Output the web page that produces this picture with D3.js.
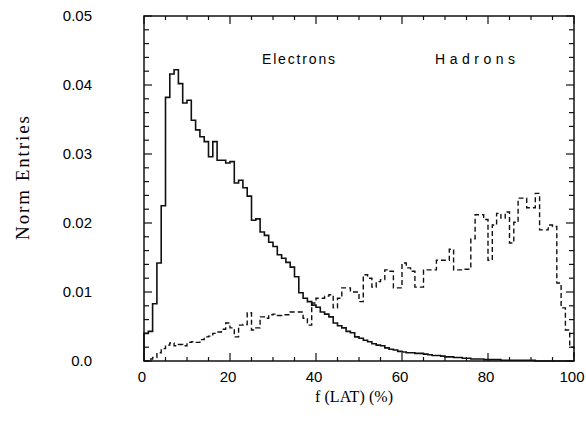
<!DOCTYPE html>
<html>
<head>
<meta charset="utf-8">
<script src="https://cdn.jsdelivr.net/npm/d3@7"></script>
<style>
  body { margin: 0; background: #fff; }
  svg { display: block; }
</style>
</head>
<body>
<div id="graph"></div>
<script>
// bin edges: bin i covers [i, i+1] in f(LAT) %
var electrons = [
  0.0040, 0.0043, 0.0083, 0.0142, 0.0225, 0.0382, 0.0416, 0.0422, 0.0402, 0.0374,
  0.0378, 0.0349, 0.0335, 0.0325, 0.0318, 0.0296, 0.0318, 0.0291, 0.0291, 0.0287,
  0.0289, 0.0258, 0.0262, 0.0251, 0.0239, 0.0204, 0.0206, 0.0187, 0.0182, 0.0172,
  0.0166, 0.0154, 0.0149, 0.0143, 0.0136, 0.0122, 0.0099, 0.0091, 0.0086, 0.0081,
  0.0078, 0.0071, 0.0068, 0.0064, 0.0055, 0.0051, 0.0048, 0.0043, 0.0041, 0.0035,
  0.0033, 0.0030, 0.0028, 0.0025, 0.0023, 0.0022, 0.0019, 0.0017, 0.0016, 0.0014,
  0.0013, 0.0012, 0.0012, 0.0011, 0.0011, 0.0010, 0.0009, 0.0008, 0.0008, 0.0007,
  0.0006, 0.0006, 0.0005, 0.0005, 0.0004, 0.0004, 0.0003, 0.0003, 0.0003, 0.0002,
  0.0002, 0.0002, 0.0002, 0.0001, 0.0001, 0.0001, 0.0001, 0.0001, 0.0001, 0.0001,
  0.0001, 0.0000, 0.0000, 0.0000, 0.0000, 0.0000, 0.0000, 0.0000, 0.0000, 0.0000
];
var hadrons = [
  0.0000, 0.0003, 0.0005, 0.0012, 0.0018, 0.0023, 0.0026, 0.0022, 0.0024, 0.0022,
  0.0027, 0.0028, 0.0027, 0.0031, 0.0035, 0.0036, 0.0040, 0.0042, 0.0046, 0.0055,
  0.0048, 0.0035, 0.0052, 0.0053, 0.0070, 0.0045, 0.0048, 0.0064, 0.0062, 0.0067,
  0.0068, 0.0066, 0.0067, 0.0067, 0.0071, 0.0071, 0.0071, 0.0062, 0.0052, 0.0084,
  0.0091, 0.0091, 0.0094, 0.0096, 0.0077, 0.0091, 0.0106, 0.0106, 0.0100, 0.0100,
  0.0086, 0.0125, 0.0120, 0.0107, 0.0115, 0.0118, 0.0132, 0.0130, 0.0106, 0.0106,
  0.0142, 0.0135, 0.0130, 0.0107, 0.0107, 0.0132, 0.0132, 0.0132, 0.0146, 0.0146,
  0.0146, 0.0162, 0.0132, 0.0132, 0.0133, 0.0133, 0.0177, 0.0212, 0.0212, 0.0205,
  0.0146, 0.0197, 0.0214, 0.0207, 0.0216, 0.0171, 0.0201, 0.0236, 0.0236, 0.0222,
  0.0222, 0.0243, 0.0190, 0.0190, 0.0197, 0.0195, 0.0113, 0.0077, 0.0045, 0.0020
];
var xTickValues = [0, 20, 40, 60, 80, 100];
var xTickLabels = ["0", "20", "40", "60", "80", "100"];
var yTickValues = [0, 0.01, 0.02, 0.03, 0.04, 0.05];
var yTickLabels = ["0.0", "0.01", "0.02", "0.03", "0.04", "0.05"];

var W = 586, H = 423;
var margin = {left: 144, right: 12, top: 16, bottom: 62};
var w = W - margin.left - margin.right, h = H - margin.top - margin.bottom;

var svg = d3.select("#graph").append("svg")
    .attr("width", W).attr("height", H)
  .append("g")
    .attr("transform", "translate(" + margin.left + "," + margin.top + ")");

var x = d3.scaleLinear().domain([0, 100]).range([0, w]);
var y = d3.scaleLinear().domain([0, 0.05]).range([h, 0]);

// step outline of a histogram
function steps(vals) {
  var pts = [[0, 0]];
  vals.forEach(function(v, i) { pts.push([i, v]); });
  pts.push([vals.length, vals[vals.length - 1]]);
  pts.push([vals.length, 0]);
  return pts;
}
var line = d3.line()
    .x(function(d) { return x(d[0]); })
    .y(function(d) { return y(d[1]); })
    .curve(d3.curveStepAfter);

svg.append("path").datum(steps(hadrons))
    .attr("d", line).attr("fill", "none")
    .attr("stroke", "#111").attr("stroke-width", 1.4)
    .attr("stroke-dasharray", "5,3");

svg.append("path").datum(steps(electrons))
    .attr("d", line).attr("fill", "none")
    .attr("stroke", "#111").attr("stroke-width", 1.6);

// frame with inward ticks on all four sides
svg.append("rect").attr("width", w).attr("height", h)
    .attr("fill", "none").attr("stroke", "#111").attr("stroke-width", 1.5);

var xMinor = d3.range(0, 101, 5);
var yMinor = d3.range(0, 0.0501, 0.002);
function xLen(v) { return v % 20 === 0 ? 8 : 4; }
function yLen(v) { return Math.abs(v / 0.01 - Math.round(v / 0.01)) < 1e-6 ? 8 : 5; }

var ticks = svg.append("g").attr("stroke", "#111").attr("stroke-width", 1.2);
xMinor.forEach(function(v) {
  ticks.append("line").attr("x1", x(v)).attr("x2", x(v)).attr("y1", h).attr("y2", h - xLen(v));
  ticks.append("line").attr("x1", x(v)).attr("x2", x(v)).attr("y1", 0).attr("y2", xLen(v));
});
yMinor.forEach(function(v) {
  ticks.append("line").attr("y1", y(v)).attr("y2", y(v)).attr("x1", 0).attr("x2", yLen(v));
  ticks.append("line").attr("y1", y(v)).attr("y2", y(v)).attr("x1", w).attr("x2", w - yLen(v));
});

// tick labels
svg.selectAll(".xl").data(xTickValues).enter().append("text")
    .attr("x", function(d) { return x(d) - 2; }).attr("y", h + 21)
    .attr("text-anchor", "middle")
    .style("font", "15px 'Liberation Sans', Arial, sans-serif")
    .text(function(d, i) { return xTickLabels[i]; });

svg.selectAll(".yl").data(yTickValues).enter().append("text")
    .attr("x", -52).attr("y", function(d) { return y(d) + 5; })
    .attr("text-anchor", "end")
    .style("font", "15px 'Liberation Sans', Arial, sans-serif")
    .text(function(d, i) { return yTickLabels[i]; });

// axis titles
svg.append("text").attr("x", 354 - margin.left).attr("y", h + 41)
    .attr("text-anchor", "middle")
    .attr("textLength", 78).attr("lengthAdjust", "spacing")
    .style("font", "16px 'Liberation Serif', 'DejaVu Serif', serif")
    .text("f (LAT) (%)");

svg.append("text")
    .attr("transform", "translate(" + (29 - margin.left) + "," + (178 - margin.top) + ") rotate(-90)")
    .attr("text-anchor", "middle")
    .attr("textLength", 124).attr("lengthAdjust", "spacing")
    .style("font", "19px 'Liberation Serif', 'DejaVu Serif', serif")
    .text("Norm Entries");

// series labels
svg.append("text").attr("x", 262 - margin.left).attr("y", 64 - margin.top)
    .attr("textLength", 73).attr("lengthAdjust", "spacing")
    .style("font", "14px 'Liberation Sans', Arial, sans-serif")
    .text("Electrons");
svg.append("text").attr("x", 435 - margin.left).attr("y", 64 - margin.top)
    .attr("textLength", 80).attr("lengthAdjust", "spacing")
    .style("font", "14px 'Liberation Sans', Arial, sans-serif")
    .text("Hadrons");
</script>
</body>
</html>
